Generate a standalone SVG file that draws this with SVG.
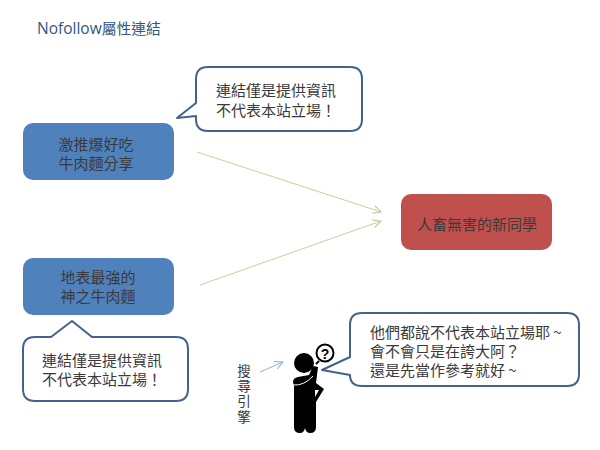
<svg xmlns="http://www.w3.org/2000/svg" width="600" height="450" viewBox="0 0 600 450">
<defs>
<marker id="ga" markerWidth="10" markerHeight="10" refX="9" refY="5" orient="auto" markerUnits="userSpaceOnUse"><path d="M1 1L9 5L1 9" fill="none" stroke="#b5c48c" stroke-width="1"/></marker>
<marker id="ba" markerWidth="10" markerHeight="10" refX="9" refY="5" orient="auto" markerUnits="userSpaceOnUse"><path d="M1 1L9 5L1 9" fill="none" stroke="#8fb0d4" stroke-width="1"/></marker>
</defs>
<style>
text{font-family:"Noto Sans CJK TC","Noto Sans CJK SC",sans-serif;fill:#3a3a3a;font-size:15px;text-anchor:middle}
.l{text-anchor:start}
.bub{fill:#fff;stroke:#42648c;stroke-width:2;stroke-linejoin:round}
.conn{fill:none;stroke:#c3d09f;stroke-width:1}
</style>
<rect width="600" height="450" fill="#fff"/>
<text class="l" x="37" y="34" style="font-family:'Open Sans','Noto Sans CJK TC',sans-serif;font-size:15.500px;fill:#34567c">Nofollow<tspan style="font-family:'Noto Sans CJK TC',sans-serif;font-size:14.800px">屬性連結</tspan></text>
<g id="connectors">
<path class="conn" d="M197 152L381 212" marker-end="url(#ga)"/>
<path class="conn" d="M200 285L381 221" marker-end="url(#ga)"/>
<path d="M260 372L283 362" fill="none" stroke="#8fb0d4" stroke-width="1" marker-end="url(#ba)"/>
</g>
<g id="node-a"><rect x="23" y="123" width="151" height="57" rx="10" fill="#4f81bd"/><text x="96" y="150">激推爆好吃</text><text x="96" y="169">牛肉麵分享</text></g>
<g id="bubble-a"><path class="bub" d="M208 67H350Q362 67 362 79V119Q362 131 350 131H208Q196 131 196 119V116L177 118L196 103V79Q196 67 208 67Z"/><text class="l" x="216" y="96">連結僅是提供資訊</text><text class="l" x="216" y="116">不代表本站立場！</text></g>
<g id="node-b"><rect x="23" y="258" width="151" height="57" rx="10" fill="#4f81bd"/><text x="98" y="283">地表最強的</text><text x="98" y="302">神之牛肉麵</text></g>
<g id="bubble-b"><path class="bub" d="M35 337H51L72 321L92 337H176Q188 337 188 349V389Q188 401 176 401H35Q23 401 23 389V349Q23 337 35 337Z"/><text class="l" x="42" y="366">連結僅是提供資訊</text><text class="l" x="42" y="385">不代表本站立場！</text></g>
<g id="node-c"><rect x="401" y="194" width="151" height="56" rx="10" fill="#c0504d"/><text x="477" y="230">人畜無害的新同學</text></g>
<g id="bubble-c"><path class="bub" d="M362 313H567Q579 313 579 325V374Q579 386 567 386H362Q350 386 350 375L322 370L350 357V325Q350 313 362 313Z"/><text class="l" x="370" y="338">他們都說不代表本站立場耶 ~</text><text class="l" x="370" y="357">會不會只是在誇大阿？</text><text class="l" x="370" y="376">還是先當作參考就好 ~</text></g>
<g id="person">
<circle cx="304" cy="363" r="10" fill="#000"/>
<path d="M293 382Q293 378 298 377L309 375L313 366L318 367L316 383L324 389L316 402V427Q316 433 310 433Q306 433 305 428Q304 433 300 433Q294 433 294 427V386Z" fill="#000"/>
<path d="M293 385Q304 386 313 376" fill="none" stroke="#fff" stroke-width="1"/>
<path d="M315 390L319 390L315 397Z" fill="#fff"/>
<circle cx="325" cy="353" r="8.500" fill="#fff" stroke="#000" stroke-width="2"/>
<path d="M319 361L316 364" stroke="#000" stroke-width="2"/>
<text x="325" y="358.500" style="font-family:'Liberation Sans',sans-serif;font-weight:700;font-size:14px;fill:#000">?</text>
</g>
<g id="label-engine"><text x="244" y="364" style="writing-mode:vertical-rl;text-anchor:start;font-size:13.500px;letter-spacing:1.800px">搜尋引擎</text></g>
</svg>
